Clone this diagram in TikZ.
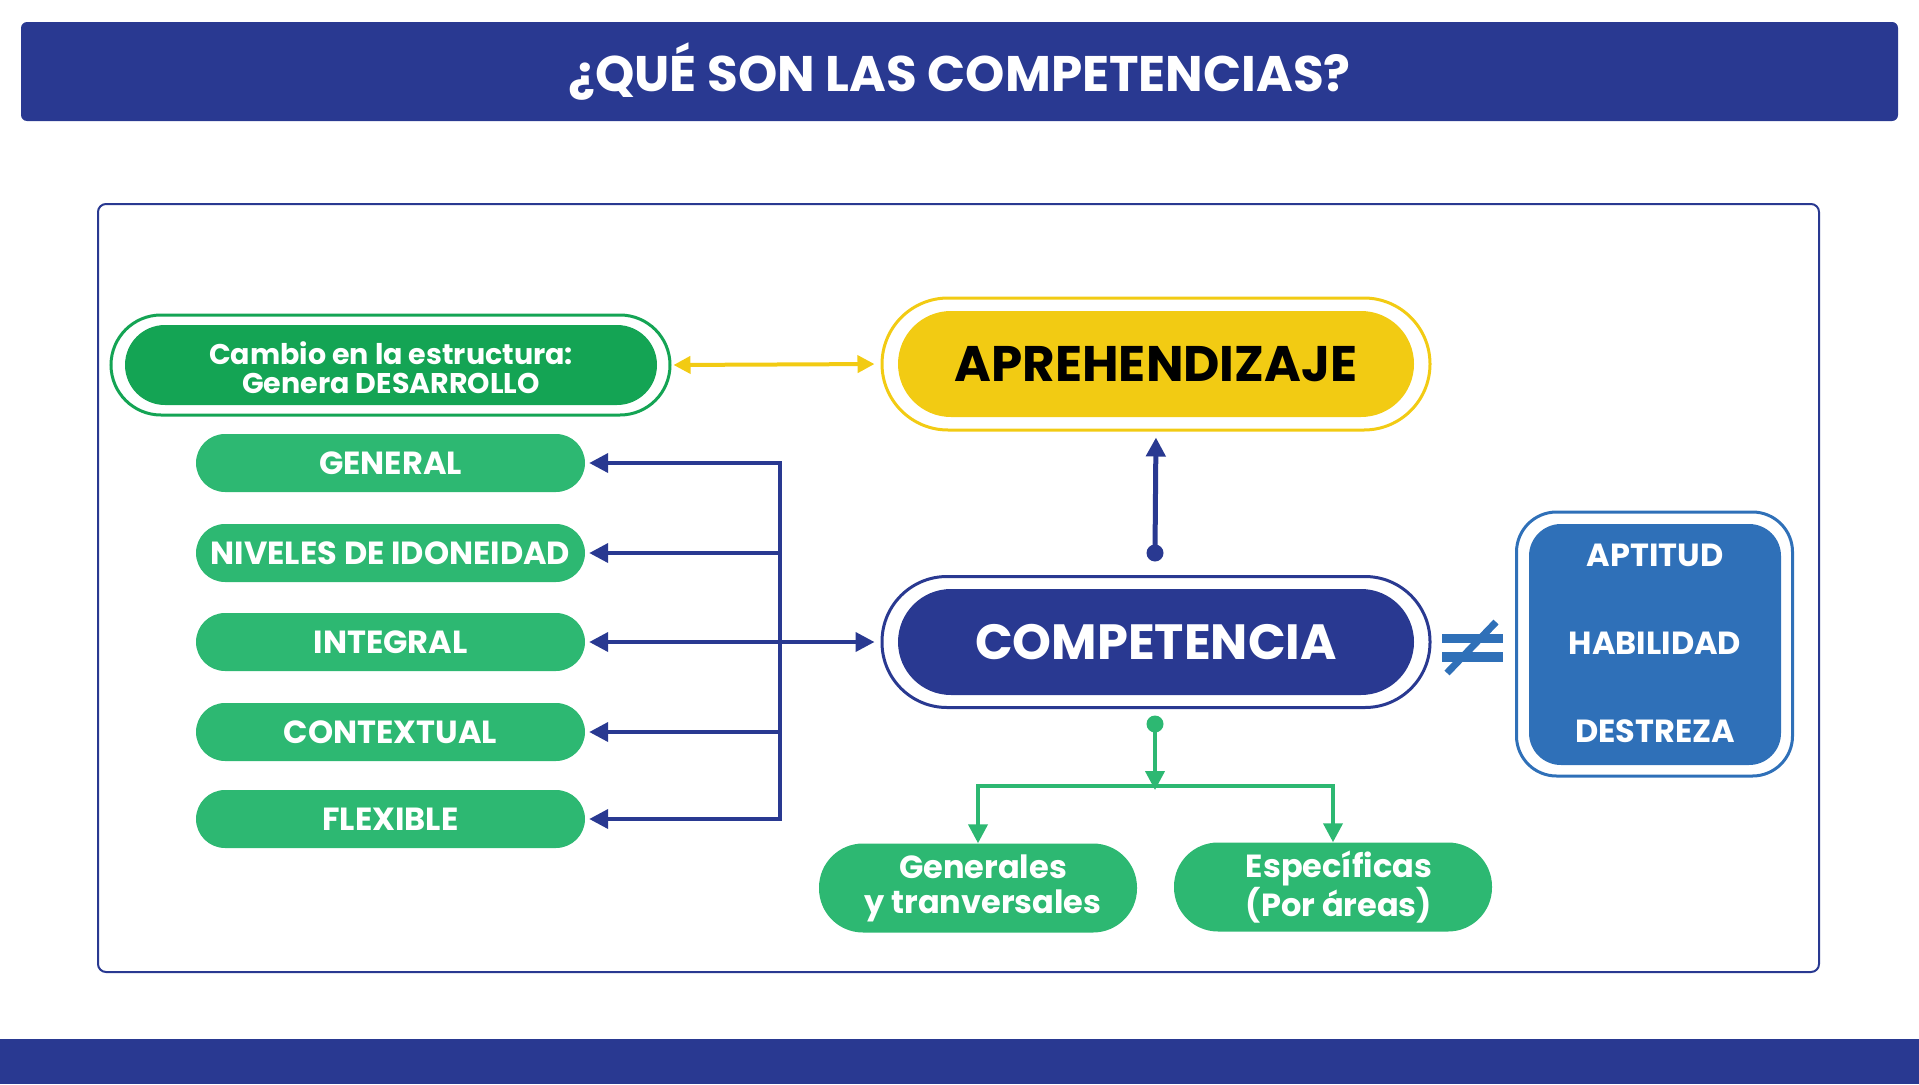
\documentclass[tikz,border=0pt]{standalone}
\usepackage{fontspec}
\setmainfont{Poppins}
\usepackage{tikz}
\usetikzlibrary{arrows.meta}
\definecolor{navy}{HTML}{293991}
\definecolor{ylw}{HTML}{F2CB13}
\definecolor{dgrn}{HTML}{14A454}
\definecolor{grn}{HTML}{2DB872}
\definecolor{blu}{HTML}{2F70B8}
\newcommand{\fsz}[1]{\fontsize{#1}{#1}\bfseries\selectfont}
\tikzset{
  ring/.style={draw=#1,line width=3pt,rectangle,inner sep=0pt},
  pill/.style={fill=#1,text=white,rectangle,inner sep=0pt,align=center},
  lbox/.style={pill=grn,minimum width=389pt,minimum height=58pt,rounded corners=29pt,font=\fsz{32}},
  bbox/.style={pill=grn,minimum width=318pt,minimum height=89pt,rounded corners=44pt,font=\fontsize{32}{35}\bfseries\selectfont},
  tipb/.style={-{Triangle[length=19pt,width=19pt]}},
}
\begin{document}
\begin{tikzpicture}[x=1pt,y=-1pt]
\useasboundingbox (0,0) rectangle (1919,1084);
\fill[navy] (0,1039) rectangle (1919,1084);
\node[pill=navy,rounded corners=6pt,minimum width=1877pt,minimum height=99pt,font=\fsz{50}] (title) at (959.5,71.5) {¿QUÉ SON LAS COMPETENCIAS?};
\draw[navy,line width=2pt,rounded corners=8pt] (98,204) rectangle (1819,972);

\node[ring=dgrn,minimum width=559pt,minimum height=100pt,rounded corners=50pt] (cbO) at (390.5,365) {};
\node[pill=dgrn,minimum width=532pt,minimum height=80pt,rounded corners=40pt,font=\fontsize{28.5}{29}\bfseries\selectfont] (cb) at (391,365) {};
\node[text=white,align=center,font=\fontsize{28.5}{29}\bfseries\selectfont] (cbt) at (391,367.5) {Cambio en la estructura:\\Genera DESARROLLO};

\node[ring=ylw,minimum width=548pt,minimum height=132pt,rounded corners=66pt] (apO) at (1156,364) {};
\node[pill=ylw,text=black,minimum width=516pt,minimum height=106pt,rounded corners=53pt,font=\fsz{50}] (ap) at (1156,364) {APREHENDIZAJE};

\node[ring=navy,minimum width=548pt,minimum height=131pt,rounded corners=65pt] (cpO) at (1156,642) {};
\node[pill=navy,minimum width=516pt,minimum height=106pt,rounded corners=53pt,font=\fsz{49.5}] (cp) at (1156,642) {COMPETENCIA};

\draw[ylw,line width=4pt,{Triangle[length=17pt,width=17pt]}-{Triangle[length=17pt,width=17pt]},shorten <=2pt,shorten >=6pt] (cbO.east) -- (apO.west);

\coordinate (trunk) at (780,463);
\foreach \yy/\nm/\ww in {463/gen/GENERAL,553/niv/NIVELES DE IDONEIDAD,642/int/INTEGRAL,732/con/CONTEXTUAL,819/fle/FLEXIBLE}{
\node[lbox] (\nm) at (390.5,\yy) {\ww};
\draw[navy,line width=4pt,tipb,shorten >=4pt] (\nm.east -| trunk) -- (\nm.east);}
\draw[navy,line width=4pt,line cap=rect] (gen.east -| trunk) -- (fle.east -| trunk);
\draw[navy,line width=4pt,tipb,shorten >=6pt] (int.east -| trunk) -- (cpO.west);

\node[circle,fill=navy,minimum size=17pt,inner sep=0pt] (dotA) at (1155,553) {};
\draw[navy,line width=5pt,tipb,shorten >=6pt] (dotA.center) -- (apO.south);

\node[circle,fill=grn,minimum size=17pt,inner sep=0pt] (dotB) at (1155,724) {};
\coordinate (split) at (1155,786);
\node[bbox] (gt) at (978,888) {\hspace{10pt}Generales\\\hspace{10pt}y tranversales};
\node[bbox] (es) at (1333,887) {\hspace{12pt}Específicas\\\hspace{12pt}(Por áreas)};
\draw[grn,line width=4pt,tipb] (dotB.center) -- ([yshift=-4pt]split);
\draw[grn,line width=4pt,tipb] (split) -| (gt.north);
\draw[grn,line width=4pt,tipb] (split) -| (es.north);

\node[ring=blu,minimum width=276pt,minimum height=264pt,rounded corners=40pt] (bxO) at (1654.5,644) {};
\node[pill=blu,minimum width=252pt,minimum height=241pt,rounded corners=32pt] (bx) at (1655,644.5) {};
\foreach \yy/\nm/\ww in {555/apt/APTITUD,643/hab/HABILIDAD,731/des/DESTREZA}{
\node[text=white,font=\fsz{32}] (\nm) at (1655,\yy) {\ww};}

\fill[blu] (1442,634) rectangle (1503,643);
\fill[blu] (1442,652) rectangle (1503,662);
\draw[blu,line width=7pt] (1447,673) -- (1496,622);
\end{tikzpicture}
\end{document}
